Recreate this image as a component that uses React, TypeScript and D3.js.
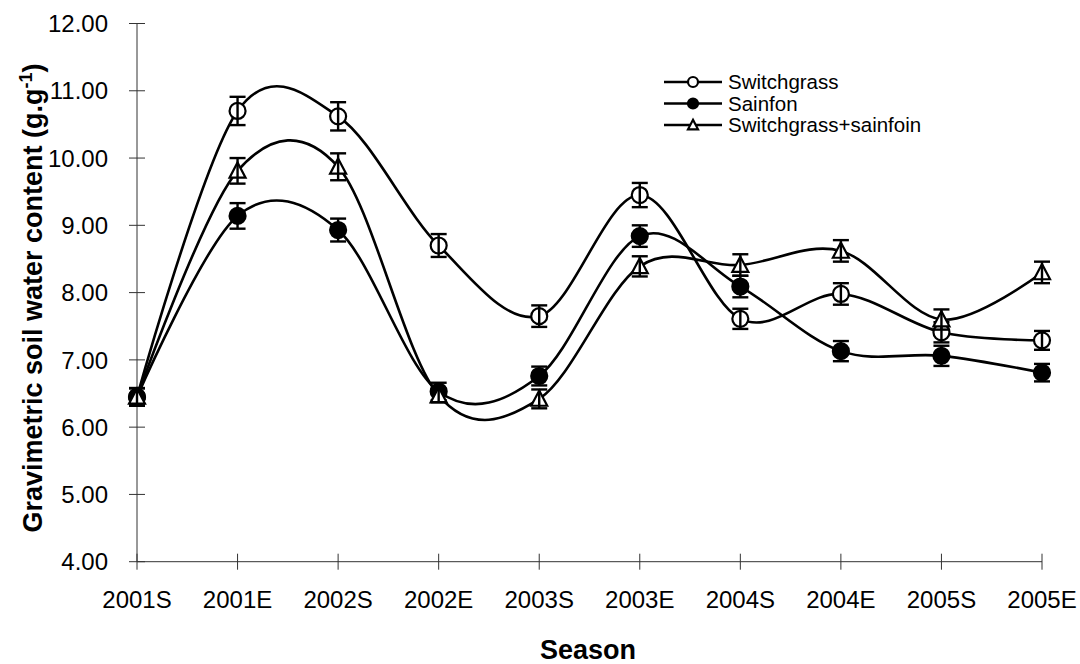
import React from 'react';
import * as d3 from 'd3';

const seasons = ['2001S', '2001E', '2002S', '2002E', '2003S', '2003E', '2004S', '2004E', '2005S', '2005E'];
const yTicks = [4, 5, 6, 7, 8, 9, 10, 11, 12];

const switchgrass = [6.45, 10.7, 10.62, 8.7, 7.65, 9.45, 7.61, 7.98, 7.41, 7.29];
const switchgrassErr = [0.13, 0.21, 0.21, 0.17, 0.16, 0.18, 0.15, 0.16, 0.15, 0.14];
const sainfon = [6.45, 9.14, 8.93, 6.53, 6.76, 8.84, 8.09, 7.13, 7.06, 6.81];
const sainfonErr = [0.13, 0.19, 0.17, 0.13, 0.14, 0.16, 0.16, 0.15, 0.15, 0.13];
const mixed = [6.45, 9.81, 9.87, 6.47, 6.42, 8.39, 8.41, 8.62, 7.6, 8.3];
const mixedErr = [0.13, 0.19, 0.2, 0.1, 0.14, 0.15, 0.16, 0.16, 0.15, 0.16];

type Marker = 'open' | 'filled' | 'triangle';
const series: { name: string; values: number[]; errs: number[]; marker: Marker }[] = [
  { name: 'Switchgrass', values: switchgrass, errs: switchgrassErr, marker: 'open' },
  { name: 'Sainfon', values: sainfon, errs: sainfonErr, marker: 'filled' },
  { name: 'Switchgrass+sainfoin', values: mixed, errs: mixedErr, marker: 'triangle' },
];

const W = 1080, H = 664;
const left = 137, right = 1042, top = 23.5, bottom = 561.7;

const MarkerShape = ({ kind, x, y, r }: { kind: Marker; x: number; y: number; r: number }) => {
  if (kind === 'triangle') {
    const h = r * 1.9;
    const pts = `${x},${y - h * 0.55} ${x + r},${y + h * 0.45} ${x - r},${y + h * 0.45}`;
    return <polygon points={pts} fill="#fff" stroke="#000" strokeWidth={2.2} />;
  }
  return (
    <circle cx={x} cy={y} r={r} fill={kind === 'filled' ? '#000' : '#fff'} stroke="#000" strokeWidth={2.2} />
  );
};

export default function App() {
  const x = d3.scalePoint<string>().domain(seasons).range([left, right]);
  const y = d3.scaleLinear().domain([4, 12]).range([bottom, top]);
  const line = d3
    .line<number>()
    .x((_, i) => x(seasons[i]) as number)
    .y(d => y(d))
    .curve(d3.curveCardinal.tension(0));

  const font = 'Arial, "Liberation Sans", sans-serif';

  return (
    <svg width={W} height={H} style={{ position: 'absolute', left: 0, top: 0 }} fontFamily={font}>
      <rect width={W} height={H} fill="#fff" />
      {/* axes */}
      <line x1={left} x2={left} y1={top} y2={bottom} stroke="#333" strokeWidth={1} />
      <line x1={left} x2={right} y1={bottom} y2={bottom} stroke="#333" strokeWidth={1} />
      {yTicks.map(t => (
        <g key={t}>
          <line x1={left - 8} x2={left + 8} y1={y(t)} y2={y(t)} stroke="#333" strokeWidth={1} />
          <text x={108} y={y(t)} dy="0.36em" textAnchor="end" fontSize={24} fill="#000">
            {t.toFixed(2)}
          </text>
        </g>
      ))}
      {seasons.map(s => (
        <g key={s}>
          <line x1={x(s)} x2={x(s)} y1={bottom - 8} y2={bottom + 8} stroke="#333" strokeWidth={1} />
          <text x={x(s)} y={608} textAnchor="middle" fontSize={24} fill="#000">
            {s}
          </text>
        </g>
      ))}
      <text x={588} y={659} textAnchor="middle" fontSize={27} fontWeight="bold">
        Season
      </text>
      <text
        transform={`translate(42,298) rotate(-90)`}
        textAnchor="middle"
        fontSize={27}
        fontWeight="bold"
      >
        Gravimetric soil water content (g.g
        <tspan dy={-10} fontSize={18}>-1</tspan>
        <tspan dy={10}>)</tspan>
      </text>

      {/* series */}
      {series.map(s => (
        <path key={s.name} d={line(s.values) || ''} fill="none" stroke="#000" strokeWidth={2.6} />
      ))}
      {series.map(s => (
        <g key={s.name}>
          {s.values.map((v, i) => {
            const cx = x(seasons[i]) as number;
            return (
              <g key={i}>
                <MarkerShape kind={s.marker} x={cx} y={y(v)} r={8} />
                <g stroke="#000" strokeWidth={2.4}>
                  <line x1={cx} x2={cx} y1={y(v + s.errs[i])} y2={y(v - s.errs[i])} />
                  <line x1={cx - 8} x2={cx + 8} y1={y(v + s.errs[i])} y2={y(v + s.errs[i])} />
                  <line x1={cx - 8} x2={cx + 8} y1={y(v - s.errs[i])} y2={y(v - s.errs[i])} />
                </g>
              </g>
            );
          })}
        </g>
      ))}

      {/* legend */}
      {series.map((s, i) => {
        const ly = 82 + i * 21.5;
        return (
          <g key={s.name}>
            <line x1={664} x2={722} y1={ly} y2={ly} stroke="#000" strokeWidth={2.4} />
            <MarkerShape kind={s.marker} x={693} y={ly} r={5} />
            <text x={728} y={ly} dy="0.36em" fontSize={20.5}>
              {s.name}
            </text>
          </g>
        );
      })}
    </svg>
  );
}
